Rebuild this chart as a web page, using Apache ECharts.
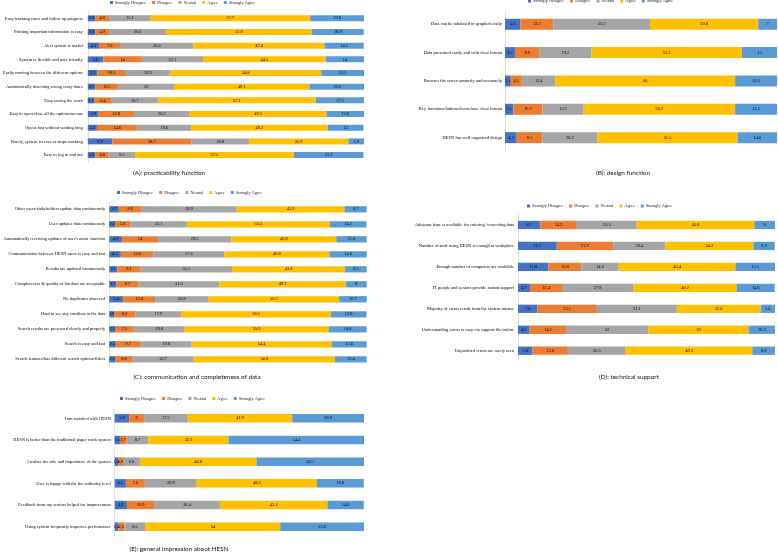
<!DOCTYPE html>
<html>
<head>
<meta charset="utf-8">
<script src="https://cdn.jsdelivr.net/npm/echarts@6/dist/echarts.min.js"></script>
<style>html,body{margin:0;padding:0;background:#fff;}#c{width:778px;height:555px;}</style>
</head>
<body>
<div id="c"></div>
<script>
const levels = ['Strongly Disagree','Disagree','Neutral','Agree','Strongly Agree'];

// (A) practicability function
const catsA = ['Easy tracking cases and follow up progress','Printing important information is easy','Alert system is useful','System is flexible and user friendly','Easily moving between the different options','Automatically detecting wrong entry dates','Easy saving the work','Easy to open/close all the options/menus','Opens fast without waiting long','Rarely, system freezes or stops working','Easy to log in and out'];
const A_sd = [2.8,2.8,4.1,5.6,3.5,2.7,2.3,3.9,3.3,8.9,2.8];
const A_d  = [4.9,4.9,7.6,14,10.3,8.5,6.4,12.8,14.6,28.7,4.8];
const A_n  = [15.1,20.6,26.6,22.1,15.9,20,16.7,20.2,19.6,20.8,9.5];
const A_a  = [57.7,52.8,47.4,44.5,54.8,49.1,57.1,49.5,49.3,35.9,57.5];
const A_sa = [19.8,18.8,14.2,14,15.5,19.8,17.5,13.6,13,5.8,25.2];

// (B) design function
const catsB = ['Data can be tabulated or graphed easily','Data presented easily and with clear format','Browser fits screen properly and accurately','Key functions/buttons/icons have clear format','HESN has well organized design'];
const B_sd = [5.6,3.7,2.1,3.1,4.3];
const B_d  = [12.2,8.9,4.1,10.7,9.5];
const B_n  = [35.5,19.2,12.4,15.1,20.2];
const B_a  = [39.8,55.3,66,55.7,51.5];
const B_sa = [7,13,15.5,15.5,14.6];

// (C) communication and completeness of data
const catsC = ['Other users/stakeholders update data continuously','User updates data continuously','Automatically receiving updates of user\'s main  function','Communication between HESN users is easy and fast','Results are updated continuously','Completeness & quality of lab data are acceptable','No duplicates observed','Hard to see any conflicts in the data','Search results are presented clearly and properly','Search is easy and fast','Search features/has different search options/filters'];
const C_sd = [3.7,2.3,4.9,4.5,3.1,2.7,5.4,1.9,2.3,2.5,2.3];
const C_d  = [8.9,5.8,14,12.6,9.1,8.7,12.4,8.2,7.2,9.7,6.8];
const C_n  = [36.9,22.1,28.5,27.6,35.5,31.3,20.8,17.9,19.8,19.8,23.7];
const C_a  = [41.9,55.5,40.8,40.8,43.9,49.3,50.7,58.1,55.9,54.4,54.8];
const C_sa = [8.7,14.2,11.8,14.6,8.5,8,10.7,13.8,14.8,13.6,12.4];

// (D) technical support
const catsD = ['Adequate time is available for entering /correcting data','Number of staff using HESN is enough at workplace','Enough number of computers are available','IT people and seniors provide instant support','Majority of errors result from the system misuse','Understanding errors is easy via support file/online','Unjustified errors are rarely seen'];
const D_sd = [8.7,15.1,11.8,4.7,7.6,4.5,5.6];
const D_d  = [14.2,21.9,12.8,12.4,23.1,14.2,13.8];
const D_n  = [23.3,20.4,14.6,27.8,31.1,32,22.5];
const D_a  = [45.8,34.2,45.4,40.2,32.6,39,49.3];
const D_sa = [8,8.3,15.5,14.8,5.6,10.3,8.9];

// (E) general impression about HESN
const catsE = ['I am satisfied with HESN','HESN is better than the traditional paper work system','I realize the role and importance of the system','User is happy with the the authority level','Feedback from my seniors helped for improvement','Using system frequently improves performance'];
const E_sd = [5.8,2.1,1.4,4.5,4.9,1.4];
const E_d  = [6,2.7,1.9,7.6,10.9,2.5];
const E_n  = [17.5,8.7,6.8,20.8,26.4,8.5];
const E_a  = [41.9,32.2,46.8,48.2,43.1,54];
const E_sa = [28.9,54.4,43.1,18.8,14.6,33.6];

const titles = ['(A): practicability function','(B): design function','(C): communication and completeness of data','(D): technical support','(E): general impression about HESN'];

const colors = ['#4472C4','#ED7D31','#A5A5A5','#FFC000','#5B9BD5'];

const panels = [
  {cats: catsA, vals: [A_sd,A_d,A_n,A_a,A_sa], grid:{left:84.3, top:11.5, width:279.7, height:150.4}, bw:6,   lm:5, legend:{left:110, top:0.5},  title:{x:169, y:174}},
  {cats: catsB, vals: [B_sd,B_d,B_n,B_a,B_sa], grid:{left:505,  top:10.1, width:272,   height:141.7}, bw:11,  lm:3, legend:{left:528, top:-1}, title:{x:623, y:174}},
  {cats: catsC, vals: [C_sd,C_d,C_n,C_a,C_sa], grid:{left:109.3,top:201.8,width:257.4, height:165},   bw:6.3, lm:4, legend:{left:117, top:190.5}, title:{x:197, y:378.3}},
  {cats: catsD, vals: [D_sd,D_d,D_n,D_a,D_sa], grid:{left:518,  top:214.5,width:257,   height:146.7}, bw:8.3, lm:4, legend:{left:527, top:204}, title:{x:629, y:378.3}},
  {cats: catsE, vals: [E_sd,E_d,E_n,E_a,E_sa], grid:{left:114.7,top:407.5,width:249.3, height:130},   bw:8.5, lm:4, legend:{left:120, top:396.5}, title:{x:179, y:550}}
];

const serif = 'Liberation Serif';
const fs = 4.5;
const option = {
  animation: false,
  backgroundColor: '#fff',
  color: colors,
  title: [], legend: [], grid: [], xAxis: [], yAxis: [], series: []
};

panels.forEach((p, i) => {
  option.title.push({
    text: titles[i], left: p.title.x, top: p.title.y - 4.2, textAlign: 'center',
    padding: 0,
    textStyle: {fontFamily: 'Lato', fontSize: 6.4, fontWeight: 'normal', color: '#111'}
  });
  option.legend.push({
    data: levels, left: p.legend.left, top: p.legend.top, padding: 0,
    icon: 'rect', itemWidth: 3, itemHeight: 3, itemGap: 6,
    textStyle: {fontFamily: serif, fontSize: 4.3, color: '#222', padding: [0,0,0,-3]}
  });
  option.grid.push(Object.assign({containLabel: false}, p.grid));
  option.xAxis.push({gridIndex: i, type: 'value', min: 0, max: 100, show: false});
  option.yAxis.push({
    gridIndex: i, type: 'category', data: p.cats, inverse: true,
    axisTick: {show: false},
    axisLine: {show: true, lineStyle: {color: '#d9d9d9', width: 0.8}},
    axisLabel: {fontFamily: serif, fontSize: fs, color: '#000', margin: p.lm}
  });
  levels.forEach((lv, k) => {
    option.series.push({
      name: lv, type: 'bar', stack: 'panel' + i,
      xAxisIndex: i, yAxisIndex: i,
      data: p.vals[k], barWidth: p.bw,
      itemStyle: {color: colors[k]},
      label: {show: true, position: 'inside', fontFamily: serif, fontSize: 4.4, color: '#000'},
      emphasis: {disabled: true}
    });
  });
});

const chart = echarts.init(document.getElementById('c'), null, {renderer: 'canvas'});
chart.setOption(option);
</script>
</body>
</html>
